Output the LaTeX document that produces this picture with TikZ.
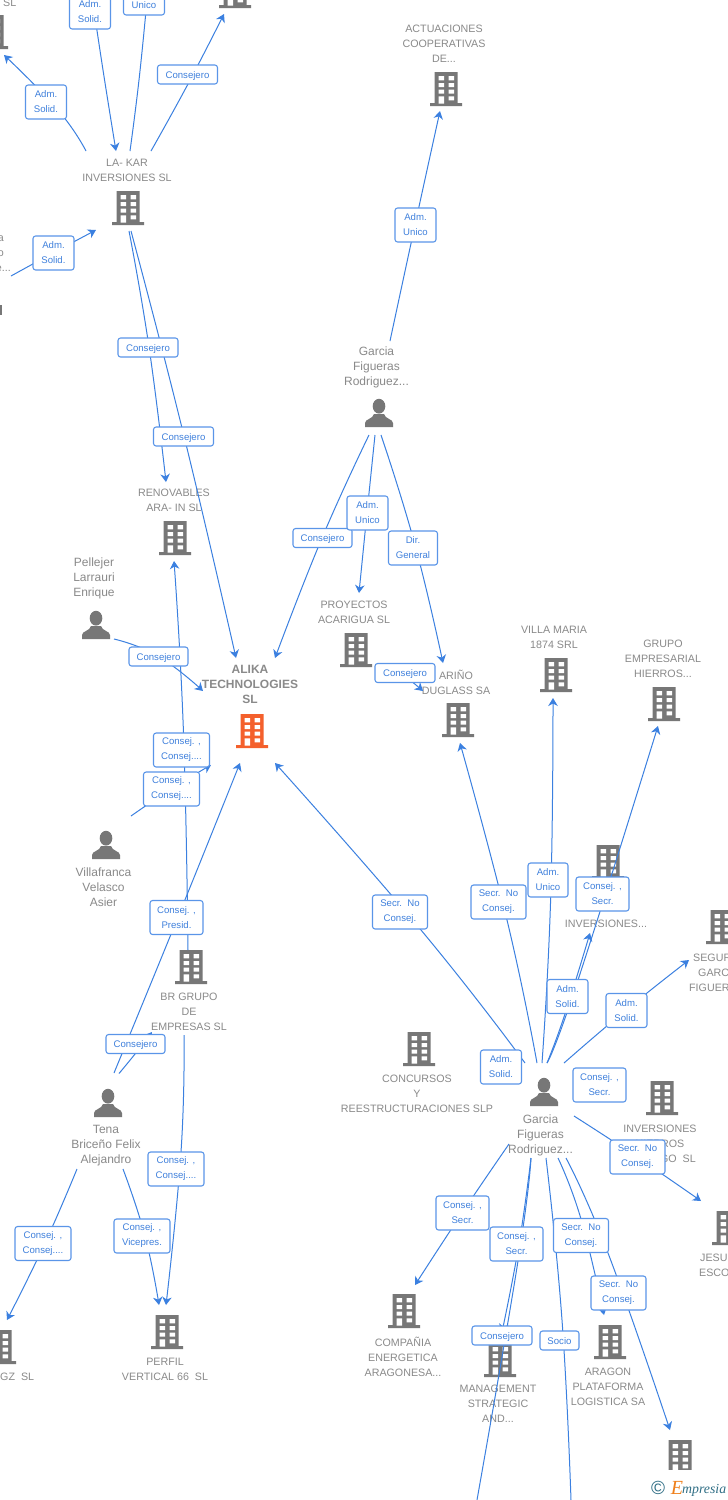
\documentclass[tikz,border=0pt]{standalone}
\usepackage{fontspec}
\setmainfont{Liberation Sans}
\newfontfamily\logofont{Liberation Serif}
\usetikzlibrary{arrows.meta}
\pgfdeclarelayer{back}
\pgfdeclarelayer{rel}
\pgfsetlayers{back,rel,main}
\definecolor{relblue}{HTML}{3B80E0}
\definecolor{labborder}{HTML}{5A95E8}
\definecolor{labtext}{HTML}{3F80DC}
\definecolor{enttext}{HTML}{8A8A8A}
\definecolor{icongray}{HTML}{777777}
\definecolor{iconorange}{HTML}{F4602C}
\definecolor{logoteal}{HTML}{2F6E85}
\definecolor{logoorange}{HTML}{EF7F1A}
\tikzset{
  relline/.style={draw=relblue,line width=1pt,line join=round},
  reltip/.style={relline,-{Stealth[length=8pt,width=9.5pt,inset=2.5pt]}},
  lab/.style={draw=labborder,line width=1.1pt,rounded corners=2.6pt,fill=white,text=labtext,
    inner sep=0pt,align=center,minimum width=#1,font=\fontsize{9.6}{15}\selectfont,
    execute at begin node={\rule{0pt}{9pt}}},
  labone/.style={lab=#1,minimum height=19pt},
  labtwo/.style={lab=#1,minimum height=34pt},
  ent/.style={text=enttext,inner sep=0pt,align=center,yshift=-1pt,font=\fontsize{10.7}{15}\selectfont},
  perent/.style={ent,font=\fontsize{12}{15}\selectfont},
  entbold/.style={ent,font=\fontsize{12}{15}\selectfont\bfseries},
  entleft/.style={ent,anchor=west},
  bldicon/.pic={
    \fill[pic actions] (-11.5,-17) rectangle (11.5,14) (-16,14) rectangle (16,17);
    \fill[white] (-7.5,-13) rectangle (-2,-8.7) (2.5,-13) rectangle (8,-8.7)
      (-7.5,-6) rectangle (-2,-2) (2.5,-6) rectangle (8,-2)
      (-7.5,0.7) rectangle (-2,4.7) (2.5,0.7) rectangle (8,4.7)
      (-7.5,7.3) rectangle (-2,14.7) (2.5,7.3) rectangle (8,11.3);
  },
  peropicon/.pic={
    \fill[pic actions] (0,-6.8) ellipse (6.3 and 7.4);
    \fill[pic actions] (-14,14) -- (-14,10) .. controls (-14,6) and (-6,6) .. (-5,1)
      -- (5,1) .. controls (6,6) and (14,6) .. (14,10) -- (14,14) -- cycle;
  }
}
\newcommand\relA[4]{\coordinate (#1s) at (#2); \coordinate (#1m) at (#3); \coordinate (#1e) at (#4);
  \draw[reltip] plot[smooth,tension=0.8] coordinates {(#1s) (#1m) (#1e)};}
\newcommand\relB[4]{\coordinate (#1s) at (#2); \coordinate (#1m) at (#3); \coordinate (#1e) at (#4);
  \draw[relline] plot[smooth,tension=0.8] coordinates {(#1s) (#1m) (#1e)};}
\newcommand\bld[1]{\pic[fill=icongray] at (#1) {bldicon};}
\newcommand\prs[1]{\pic[fill=icongray] at (#1) {peropicon};}
\begin{document}
\begin{tikzpicture}[x=1pt,y=-1pt]
\useasboundingbox (0,0) rectangle (728,1500);
\begin{pgfonlayer}{back}
\fill[white] (0,0) rectangle (728,1500);
\bld{128,208} \bld{-8,32} \bld{235,-9} \bld{446,89} \bld{175,538} \bld{356,650}
\bld{458,720} \bld{556,675} \bld{664,704} \bld{608,862} \bld{722,927}
\bld{662,1098} \bld{419,1049} \bld{191,967} \bld{404,1311} \bld{500,1360}
\bld{610,1342} \bld{728,1228} \bld{680,1457} \bld{167,1332} \bld{0,1347}
\pic[fill=iconorange] at (252,731) {bldicon};
\prs{379,413} \prs{96,625} \prs{106,845} \prs{108,1103} \prs{544,1092}
\fill[icongray] (0,305) rectangle (2,315);
\node[ent] (nlakar) at (127,169.5) {LA- KAR\\INVERSIONES SL};
\node[ent,anchor=west] (ntopsl) at (3,2) {SL};
\node[ent,anchor=east] (nlefta) at (4,238) {a};
\node[ent,anchor=east] (nlefto) at (4,253) {o};
\node[ent,anchor=east] (nlefte) at (11,268) {e...};
\node[ent] (nactu) at (444,43) {ACTUACIONES\\COOPERATIVAS\\DE...};
\node[perent] (ngarcia) at (376.5,366) {Garcia\\Figueras\\Rodriguez...};
\node[ent] (nreno) at (174,499.5) {RENOVABLES\\ARA- IN SL};
\node[perent] (npell) at (94,577) {Pellejer\\Larrauri\\Enrique};
\node[ent] (nproy) at (354,611.5) {PROYECTOS\\ACARIGUA SL};
\node[entbold] (nalika) at (250,683) {ALIKA\\TECHNOLOGIES\\SL};
\node[ent] (narino) at (456,681) {ARIÑO\\DUGLASS SA};
\node[ent] (nvilla) at (554,636.5) {VILLA MARIA\\1874 SRL};
\node[ent] (ngrupo) at (663,658) {GRUPO\\EMPRESARIAL\\HIERROS...};
\node[perent] (nvilaf) at (103.5,886) {Villafranca\\Velasco\\Asier};
\node[ent] (ninv) at (606,923) {INVERSIONES...};
\node[entleft] (nseg1) at (693,957) {SEGUR};
\node[entleft] (nseg2) at (698,972) {GARC};
\node[entleft] (nseg3) at (689,987) {FIGUER};
\node[ent] (nbr) at (189,1011) {BR GRUPO\\DE\\EMPRESAS SL};
\node[ent] (nconc) at (417,1093) {CONCURSOS\\Y\\REESTRUCTURACIONES SLP};
\node[ent] (nhier) at (660,1135.5) {INVERSIONES\\HIERROS};
\node[ent,anchor=east] (nhier3) at (696,1158) {GO\ \ SL};
\node[perent] (ngarb) at (540.5,1134) {Garcia\\Figueras\\Rodriguez...};
\node[perent] (ntena) at (106,1145) {Tena\\Briceño Felix\\Alejandro};
\node[entleft] (njes1) at (700,1257) {JESU};
\node[entleft] (njes2) at (699,1272) {ESCO};
\node[ent] (ncomp) at (403,1356) {COMPAÑIA\\ENERGETICA\\ARAGONESA...};
\node[ent] (nmgmt) at (498,1403) {MANAGEMENT\\STRATEGIC\\AND...};
\node[ent] (narag) at (608,1386) {ARAGON\\PLATAFORMA\\LOGISTICA SA};
\node[ent] (nperf) at (165,1368.5) {PERFIL\\VERTICAL 66\ \ SL};
\node[ent,anchor=west] (ngz) at (0,1376) {GZ\ \ SL};
\end{pgfonlayer}
\begin{pgfonlayer}{rel}
\relA{a}{86,151}{58,110}{4,55}
\relA{b}{91,-10}{103,70}{116,151}
\relB{c}{130,151}{139,80}{147,0}
\relA{d}{151,151}{188,84}{224,14}
\relA{f}{11,276}{53,253}{96,230}
\relA{g}{129,231}{149,347}{166,482}
\relA{h}{131,231}{184,436}{236,658}
\relA{i}{188,950}{183.5,733}{174,561}
\relA{j}{184,1035}{181,1152}{166,1305}
\relA{k}{114,1073}{178,917}{240,763}
\relA{l}{119,1073.5}{135,1054}{152,1032}
\relA{m}{77,1169}{45,1243}{7,1320}
\relA{n}{123,1169}{145,1236}{159,1305}
\relA{o}{114,639}{158,656}{203,691}
\relA{p}{131,816}{171,789}{211,765}
\relA{q}{390,341}{415,225}{440,111}
\relA{r}{369,435}{322,538}{275,658}
\relA{t}{375,435}{367,513}{359,593}
\relA{u}{381,435}{415,545}{443,663}
\relA{v}{395,668}{410,680}{423,691}
\relA{w}{525,1063}{421,930}{275,763}
\relA{x}{537,1063}{507,920}{460,743}
\relA{y}{542,1063}{550.7,897}{553,698}
\relA{z}{547,1063}{565,1014}{590,933}
\relA{aa}{547,1063}{578,980}{658,726}
\relA{ab}{564,1063}{626,1010}{689,960}
\relA{ac}{574,1116}{637,1157}{701,1201}
\relA{ad}{509,1144}{462,1213}{415,1285}
\relA{ae}{531,1158}{519,1244}{502,1332}
\relB{af}{531,1158}{518,1261}{477,1500}
\relB{ag}{546,1158}{562,1320}{571,1500}
\relA{ah}{558,1158}{581,1219}{604,1315}
\relA{ai}{566,1158}{608,1253}{670,1430}
\end{pgfonlayer}
\node[labtwo=41pt] (l1) at (46,102) {Adm.\\Solid.};
\node[labtwo=41pt] (l2) at (90,12) {Adm.\\Solid.};
\node[labtwo=41pt] (l3) at (144,-2) {Adm.\\Unico};
\node[labone=60pt] (l4) at (187.5,74.5) {Consejero};
\node[labtwo=41pt] (l5) at (53.5,253) {Adm.\\Solid.};
\node[labone=60pt] (l6) at (148,347.5) {Consejero};
\node[labone=60pt] (l7) at (183.5,436.5) {Consejero};
\node[labtwo=41pt] (l8) at (415.5,225) {Adm.\\Unico};
\node[labone=59pt] (l9) at (322.5,538) {Consejero};
\node[labtwo=41pt] (l10) at (367.5,513) {Adm.\\Unico};
\node[labtwo=49pt] (l11) at (413,548) {Dir.\\General};
\node[labone=60pt] (l12) at (405,673) {Consejero};
\node[labone=59pt] (l13) at (158.5,656.5) {Consejero};
\node[labtwo=56pt] (l14) at (181.5,750) {Consej. ,\\Consej....};
\node[labtwo=56pt] (l15) at (171.5,789) {Consej. ,\\Consej....};
\node[labtwo=53pt] (l16) at (176.5,917.5) {Consej. ,\\Presid.};
\node[labone=59pt] (l17) at (135.5,1044) {Consejero};
\node[labtwo=56pt] (l18) at (176,1169) {Consej. ,\\Consej....};
\node[labtwo=56pt] (l19) at (43,1243.5) {Consej. ,\\Consej....};
\node[labtwo=56pt] (l20) at (142,1236) {Consej. ,\\Vicepres.};
\node[labtwo=55pt] (l21) at (400,912) {Secr.\ \ No\\Consej.};
\node[labtwo=55pt] (l22) at (498.5,902) {Secr.\ \ No\\Consej.};
\node[labtwo=40pt] (l23) at (548,880) {Adm.\\Unico};
\node[labtwo=53pt] (l24) at (602.5,894) {Consej. ,\\Secr.};
\node[labtwo=41pt] (l25) at (567.5,996.5) {Adm.\\Solid.};
\node[labtwo=41pt] (l26) at (626.5,1010.5) {Adm.\\Solid.};
\node[labtwo=41pt] (l27) at (501,1067) {Adm.\\Solid.};
\node[labtwo=53pt] (l28) at (599.5,1085) {Consej. ,\\Secr.};
\node[labtwo=55pt] (l29) at (637.5,1157) {Secr.\ \ No\\Consej.};
\node[labtwo=53pt] (l30) at (462.5,1213) {Consej. ,\\Secr.};
\node[labtwo=53pt] (l31) at (516.5,1244) {Consej. ,\\Secr.};
\node[labtwo=55pt] (l32) at (581,1235.5) {Secr.\ \ No\\Consej.};
\node[labtwo=55pt] (l33) at (618.5,1293) {Secr.\ \ No\\Consej.};
\node[labone=60pt] (l34) at (502,1335.5) {Consejero};
\node[labone=39pt] (l35) at (559.5,1340.5) {Socio};
\fill[white] (648,1470) rectangle (728,1500);
\node[text=logoteal,inner sep=0pt,font=\fontsize{19}{19}\selectfont] (logoc) at (658,1488) {©};
\node[text=logoorange,inner sep=0pt,font=\logofont\itshape\fontsize{20}{20}\selectfont] (logoe) at (677,1488) {E};
\node[text=logoteal,inner sep=0pt,anchor=west,font=\logofont\itshape\fontsize{13.8}{13.8}\selectfont] (logot) at (682,1490) {mpresia};
\end{tikzpicture}
\end{document}
